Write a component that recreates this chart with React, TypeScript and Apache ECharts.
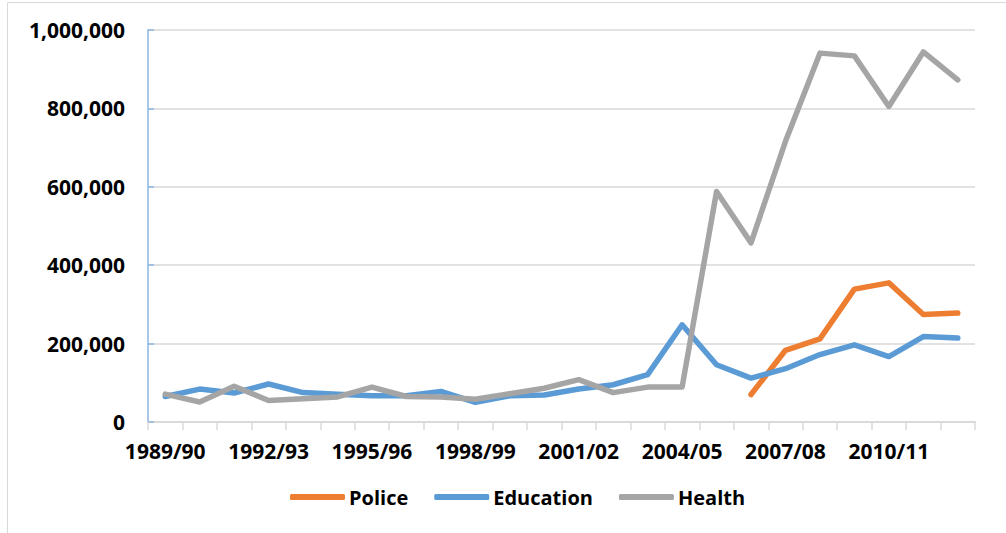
import React, { useEffect, useRef } from "react";
import * as echarts from "echarts";

const categories = [
  "1989/90", "1990/91", "1991/92", "1992/93", "1993/94", "1994/95", "1995/96", "1996/97",
  "1997/98", "1998/99", "1999/00", "2000/01", "2001/02", "2002/03", "2003/04", "2004/05",
  "2005/06", "2006/07", "2007/08", "2008/09", "2009/10", "2010/11", "2011/12", "2012/13",
];

const police = [
  null, null, null, null, null, null, null, null,
  null, null, null, null, null, null, null, null,
  null, 70000, 183000, 212000, 339000, 355000, 274000, 278000,
];

const education = [
  65000, 84000, 74000, 97000, 75000, 71000, 67000, 67000,
  78000, 50000, 67000, 69000, 84000, 95000, 121000, 248000,
  146000, 112000, 136000, 172000, 197000, 167000, 218000, 214000,
];

const health = [
  71000, 51000, 91000, 55000, 59000, 64000, 89000, 65000,
  64000, 58000, 72000, 86000, 108000, 75000, 89000, 89000,
  588000, 457000, 716000, 941000, 934000, 805000, 944000, 873000,
];

const yTicks = { min: 0, max: 1000000, interval: 200000 };

const FONT = "'Open Sans', 'Noto Sans', sans-serif";

export default function App() {
  const ref = useRef<HTMLDivElement>(null);
  useEffect(() => {
    if (!ref.current) return;
    const chart = echarts.init(ref.current, undefined, { renderer: "svg" });
    const lineSeries = (name: string, data: (number | null)[], color: string) => ({
      name,
      type: "line",
      data,
      symbol: "none",
      connectNulls: false,
      lineStyle: { width: 5.5, color, cap: "round", join: "round" },
      itemStyle: { color },
    });
    chart.setOption({
      animation: false,
      backgroundColor: "#ffffff",
      graphic: [
        {
          type: "rect",
          shape: { x: 7.5, y: 2.5, width: 1100, height: 700 },
          style: { fill: "none", stroke: "#d9d9d9", lineWidth: 1 },
          silent: true,
        },
      ],
      grid: { left: 148, right: 31, top: 30, bottom: 111, containLabel: false },
      legend: {
        bottom: 21,
        left: 285,
        itemWidth: 55,
        itemHeight: 6,
        itemGap: 26,
        icon: "roundRect",
        textStyle: { fontFamily: FONT, fontWeight: "bold", fontSize: 20, color: "#000", padding: [0, 0, 0, -1] },
        data: ["Police", "Education", "Health"],
      },
      xAxis: {
        type: "category",
        data: categories,
        boundaryGap: true,
        axisLine: { lineStyle: { color: "#d9d9d9", width: 2 } },
        axisTick: { show: true, length: 8, interval: 0, lineStyle: { color: "#d9d9d9", width: 1.5 } },
        axisLabel: {
          interval: 2,
          margin: 18,
          fontFamily: FONT,
          fontWeight: "bold",
          fontSize: 21,
          color: "#000",
        },
      },
      yAxis: {
        type: "value",
        min: yTicks.min,
        max: yTicks.max,
        interval: yTicks.interval,
        axisLine: { show: true, lineStyle: { color: "#8db4e2", width: 1.5 } },
        axisTick: { show: true, inside: true, length: 6, lineStyle: { color: "#8db4e2", width: 1.5 } },
        splitLine: { lineStyle: { color: "#d9d9d9", width: 1.5 } },
        axisLabel: {
          margin: 23,
          fontFamily: FONT,
          fontWeight: "bold",
          fontSize: 21,
          color: "#000",
          formatter: (v: number) => v.toLocaleString("en-US"),
        },
      },
      series: [
        lineSeries("Police", police, "#ED7D31"),
        lineSeries("Education", education, "#5B9BD5"),
        lineSeries("Health", health, "#A5A5A5"),
      ],
    });
    return () => chart.dispose();
  }, []);
  return (
    <div
      ref={ref}
      style={{ position: "fixed", left: 0, top: 0, width: 1006, height: 533 }}
    />
  );
}
